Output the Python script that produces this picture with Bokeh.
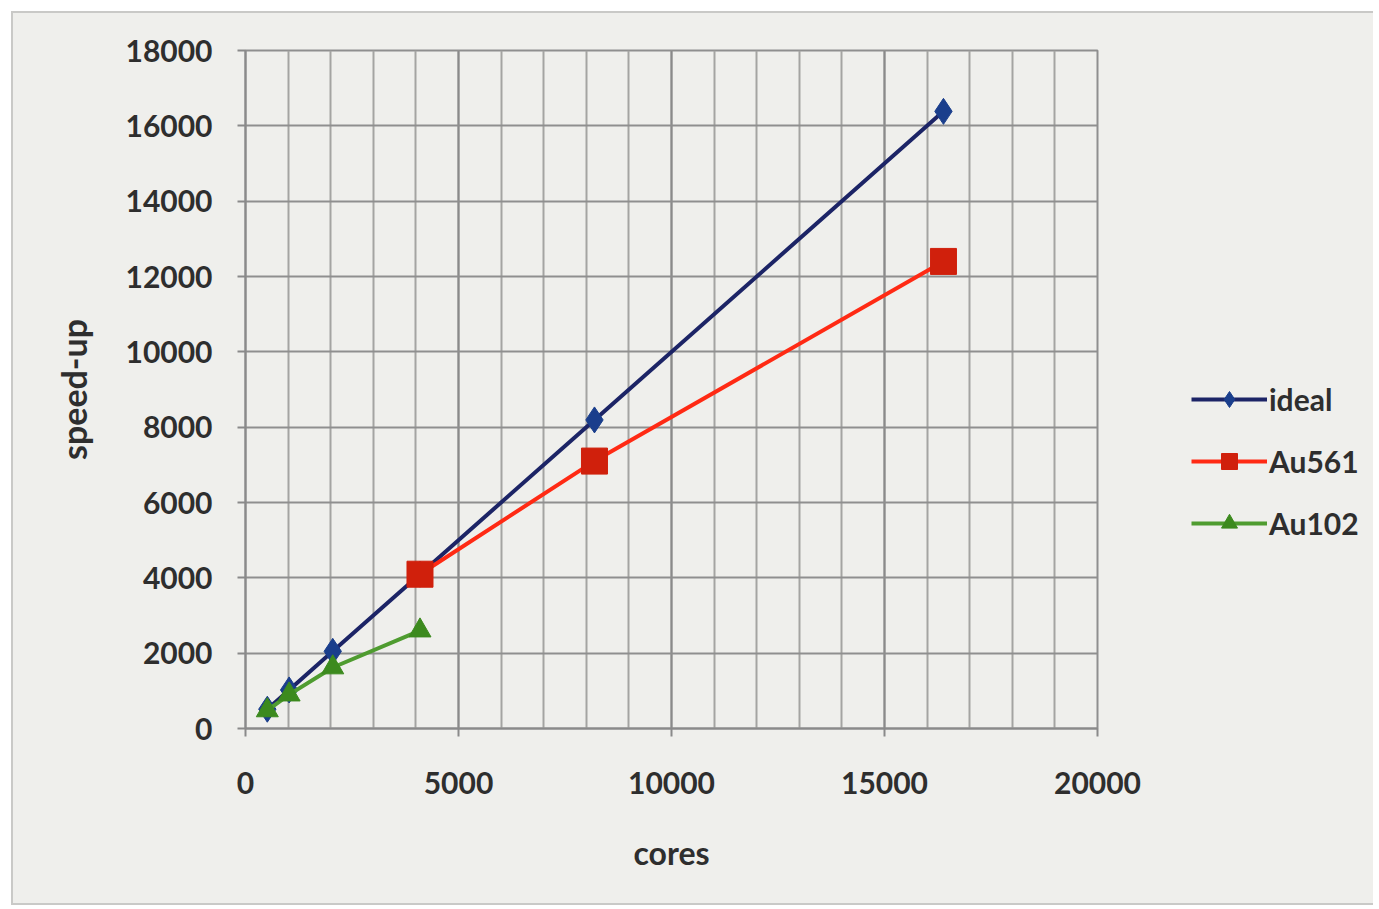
from bokeh.plotting import figure
from bokeh.layouts import row
from bokeh.models import FixedTicker, Legend, LegendItem, Range1d
from bokeh.embed import file_html
from bokeh.resources import INLINE

cores_ideal = [512, 1024, 2048, 4096, 8192, 16384]
speedup_ideal = [512, 1024, 2048, 4096, 8192, 16384]
cores_au561 = [4096, 8192, 16384]
speedup_au561 = [4096, 7100, 12400]
cores_au102 = [512, 1024, 2048, 4096]
speedup_au102 = [480, 900, 1620, 2600]
series_names = ["ideal", "Au561", "Au102"]

x_ticks = [0, 5000, 10000, 15000, 20000]
x_minor = [i * 1000 for i in range(0, 21)]
y_ticks = [0, 2000, 4000, 6000, 8000, 10000, 12000, 14000, 16000, 18000]

BG = "#efefec"
FONT = "Lato"

styles = [
    dict(line_color="#1c2466", marker="diamond", size=26, mcolor="#1a3e8c"),
    dict(line_color="#ff2a14", marker="square", size=26, mcolor="#d0200c"),
    dict(line_color="#4f9c30", marker="triangle", size=22, mcolor="#3c8a1e"),
]
series = [(cores_ideal, speedup_ideal), (cores_au561, speedup_au561), (cores_au102, speedup_au102)]

p = figure(width=1144, height=890, output_backend="svg", toolbar_location=None,
           x_range=Range1d(0, 20000), y_range=Range1d(0, 18000),
           min_border_left=232, min_border_right=60, min_border_top=37, min_border_bottom=175,
           background_fill_color=BG, border_fill_color=BG)
p.outline_line_color = "#8f8f8f"
p.outline_line_width = 2

p.xaxis.ticker = FixedTicker(ticks=x_ticks, minor_ticks=x_minor)
p.yaxis.ticker = FixedTicker(ticks=y_ticks)

p.xgrid.grid_line_color = "#8a8a8a"
p.xgrid.grid_line_width = 2
p.xgrid.minor_grid_line_color = "#a4a4a2"
p.xgrid.minor_grid_line_width = 2
p.ygrid.grid_line_color = "#8f8f8f"
p.ygrid.grid_line_width = 2

for ax in (p.xaxis[0], p.yaxis[0]):
    ax.axis_line_color = "#8a8a8a"
    ax.axis_line_width = 2
    ax.major_tick_line_color = "#8a8a8a"
    ax.major_tick_line_width = 2
    ax.major_tick_out = 8
    ax.major_tick_in = 0
    ax.minor_tick_line_color = None
    ax.major_label_text_font = FONT
    ax.major_label_text_font_style = "bold"
    ax.major_label_text_font_size = "30px"
    ax.major_label_text_color = "#2e2e2e"
    ax.axis_label_text_font = FONT
    ax.axis_label_text_font_style = "bold"
    ax.axis_label_text_color = "#2e2e2e"

p.xaxis.axis_label_text_font_size = "32px"
p.yaxis.axis_label_text_font_size = "34px"
p.xaxis.major_label_standoff = 35
p.yaxis.major_label_standoff = 25
p.xaxis.axis_label = "cores"
p.yaxis.axis_label = "speed-up"
p.xaxis.axis_label_standoff = 36
p.yaxis.axis_label_standoff = 28

for (xs, ys), st in zip(series, styles):
    p.line(xs, ys, line_color=st["line_color"], line_width=4)
    p.scatter(xs, ys, marker=st["marker"], size=st["size"],
              fill_color=st["mcolor"], line_color=st["mcolor"])

# Legend panel (same series drawn outside its visible range, only the legend shows)
q = figure(width=216, height=890, output_backend="svg", toolbar_location=None,
           x_range=Range1d(-2, -1), y_range=Range1d(-2, -1),
           x_axis_type=None, y_axis_type=None, min_border=0,
           background_fill_color=BG, border_fill_color=BG)
q.outline_line_color = None
q.grid.visible = False
items = []
for (xs, ys), st, name in zip(series, styles, series_names):
    lr = q.line(xs, ys, line_color=st["line_color"], line_width=4)
    mr = q.scatter(xs, ys, marker=st["marker"], size=st["size"],
                   fill_color=st["mcolor"], line_color=st["mcolor"])
    items.append(LegendItem(label=name, renderers=[lr, mr]))

legend = Legend(items=items, location=(34, 185), orientation="vertical",
                glyph_width=76, glyph_height=40, spacing=22, padding=0, margin=0,
                label_standoff=2,
                label_text_font=FONT, label_text_font_style="bold",
                label_text_font_size="30px", label_text_color="#2e2e2e",
                background_fill_alpha=0, border_line_color=None)
q.add_layout(legend, "center")

layout = row(p, q, styles={"border": "2px solid #c9c9c7", "border-right": "none",
                           "margin-left": "11px", "margin-top": "11px",
                           "background-color": BG})

open("out.html", "w").write(file_html(layout, INLINE))
